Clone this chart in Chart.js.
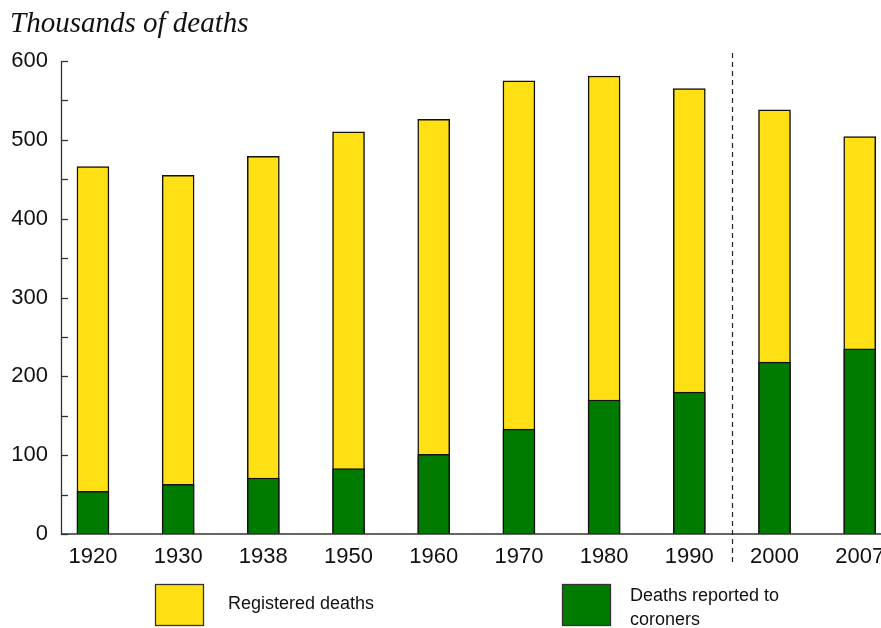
<!DOCTYPE html>
<html>
<head>
<meta charset="utf-8">
<script src="https://cdn.jsdelivr.net/npm/chart.js@4"></script>
<style>
  html, body { margin: 0; padding: 0; background: #fff; }
  #wrap { width: 881px; height: 628px; position: relative; }
</style>
</head>
<body>
<div id="wrap"><canvas id="c" width="881" height="628"></canvas></div>
<script>
const years = ['1920', '1930', '1938', '1950', '1960', '1970', '1980', '1990', '2000', '2007'];
const registeredDeaths = [466, 455, 479, 510, 526, 575, 581, 565, 538, 504];
const coronerDeaths = [54, 63, 71, 83, 101, 133, 170, 180, 218, 235];
const yTickValues = [0, 100, 200, 300, 400, 500, 600];
const seriesNames = ['Registered deaths', ['Deaths reported to', 'coroners']];
const titleText = 'Thousands of deaths';
const breakBetween = 7.5; // dashed separator between 1990 and 2000

const YELLOW = 'rgb(255,224,20)';
const GREEN = 'rgb(0,123,0)';

const decorPlugin = {
  id: 'decor',
  afterDraw(chart) {
    const ctx = chart.ctx;
    const xs = chart.scales.x, ys = chart.scales.y;
    ctx.save();
    ctx.strokeStyle = '#333';
    ctx.lineWidth = 1.3;
    for (let v = 0; v <= 600; v += 50) {
      const py = Math.round(ys.getPixelForValue(v)) + 0.5;
      ctx.beginPath();
      ctx.moveTo(xs.left, py);
      ctx.lineTo(xs.left + 7, py);
      ctx.stroke();
    }
    ctx.beginPath();
    ctx.moveTo(xs.left + 0.5, ys.top);
    ctx.lineTo(xs.left + 0.5, ys.bottom);
    ctx.lineTo(chart.width, ys.bottom);
    ctx.stroke();
    const dx = Math.round(xs.getPixelForValue(breakBetween)) + 0.5;
    ctx.setLineDash([5, 4]);
    ctx.lineWidth = 1.2;
    ctx.strokeStyle = '#222';
    ctx.beginPath();
    ctx.moveTo(dx, 53);
    ctx.lineTo(dx, 566);
    ctx.stroke();
    ctx.setLineDash([]);
    ctx.fillStyle = '#111';
    ctx.font = 'italic 29px "Liberation Serif", "DejaVu Serif", serif';
    ctx.textBaseline = 'alphabetic';
    ctx.textAlign = 'left';
    ctx.fillText(titleText, 10, 32);
    ctx.lineWidth = 1.3;
    ctx.strokeStyle = '#333';
    ctx.fillStyle = YELLOW;
    ctx.fillRect(155.5, 584.5, 48, 41);
    ctx.strokeRect(155.5, 584.5, 48, 41);
    ctx.fillStyle = GREEN;
    ctx.fillRect(562.5, 584.5, 48, 41);
    ctx.strokeRect(562.5, 584.5, 48, 41);
    ctx.fillStyle = '#111';
    ctx.font = '18px "Liberation Sans", Arial, sans-serif';
    ctx.textBaseline = 'middle';
    ctx.fillText(seriesNames[0], 228, 604);
    ctx.fillText(seriesNames[1][0], 630, 596);
    ctx.fillText(seriesNames[1][1], 630, 620);
    ctx.restore();
  }
};

new Chart(document.getElementById('c'), {
  type: 'bar',
  data: {
    datasets: [
      {
        label: 'Deaths reported to coroners',
        data: coronerDeaths.map((v, i) => ({ x: i, y: v })),
        backgroundColor: GREEN,
        borderColor: '#111',
        borderWidth: 1.5,
        borderSkipped: 'bottom',
        grouped: false,
        barThickness: 32,
        order: 0
      },
      {
        label: 'Registered deaths',
        data: registeredDeaths.map((v, i) => ({ x: i, y: v })),
        backgroundColor: YELLOW,
        borderColor: '#111',
        borderWidth: 1.5,
        borderSkipped: 'bottom',
        grouped: false,
        barThickness: 32,
        order: 1
      }
    ]
  },
  options: {
    responsive: false,
    animation: false,
    devicePixelRatio: 1,
    layout: { padding: { top: 61, left: 0, right: 0, bottom: 0 } },
    plugins: { legend: { display: false }, tooltip: { enabled: false }, title: { display: false } },
    scales: {
      x: {
        type: 'linear',
        offset: false,
        min: -0.375,
        max: 9.25,
        afterBuildTicks: s => { s.ticks = years.map((_, i) => ({ value: i })); },
        afterFit: s => { s.height = 94; s.paddingLeft = 0; s.paddingRight = 0; },
        grid: { display: false, drawTicks: false, offset: false },
        border: { display: false },
        ticks: {
          autoSkip: false,
          maxRotation: 0,
          padding: 10,
          color: '#111',
          font: { family: '"Liberation Sans", Arial, sans-serif', size: 22 },
          callback: v => years[v] ?? ''
        }
      },
      y: {
        min: 0,
        max: 600,
        afterBuildTicks: s => { s.ticks = yTickValues.map(v => ({ value: v })); },
        afterFit: s => { s.width = 61; s.paddingTop = 0; s.paddingBottom = 0; },
        grid: { display: false, drawTicks: false },
        border: { display: false },
        ticks: {
          padding: 13,
          color: '#111',
          font: { family: '"Liberation Sans", Arial, sans-serif', size: 22 }
        }
      }
    }
  },
  plugins: [decorPlugin]
});
</script>
</body>
</html>
